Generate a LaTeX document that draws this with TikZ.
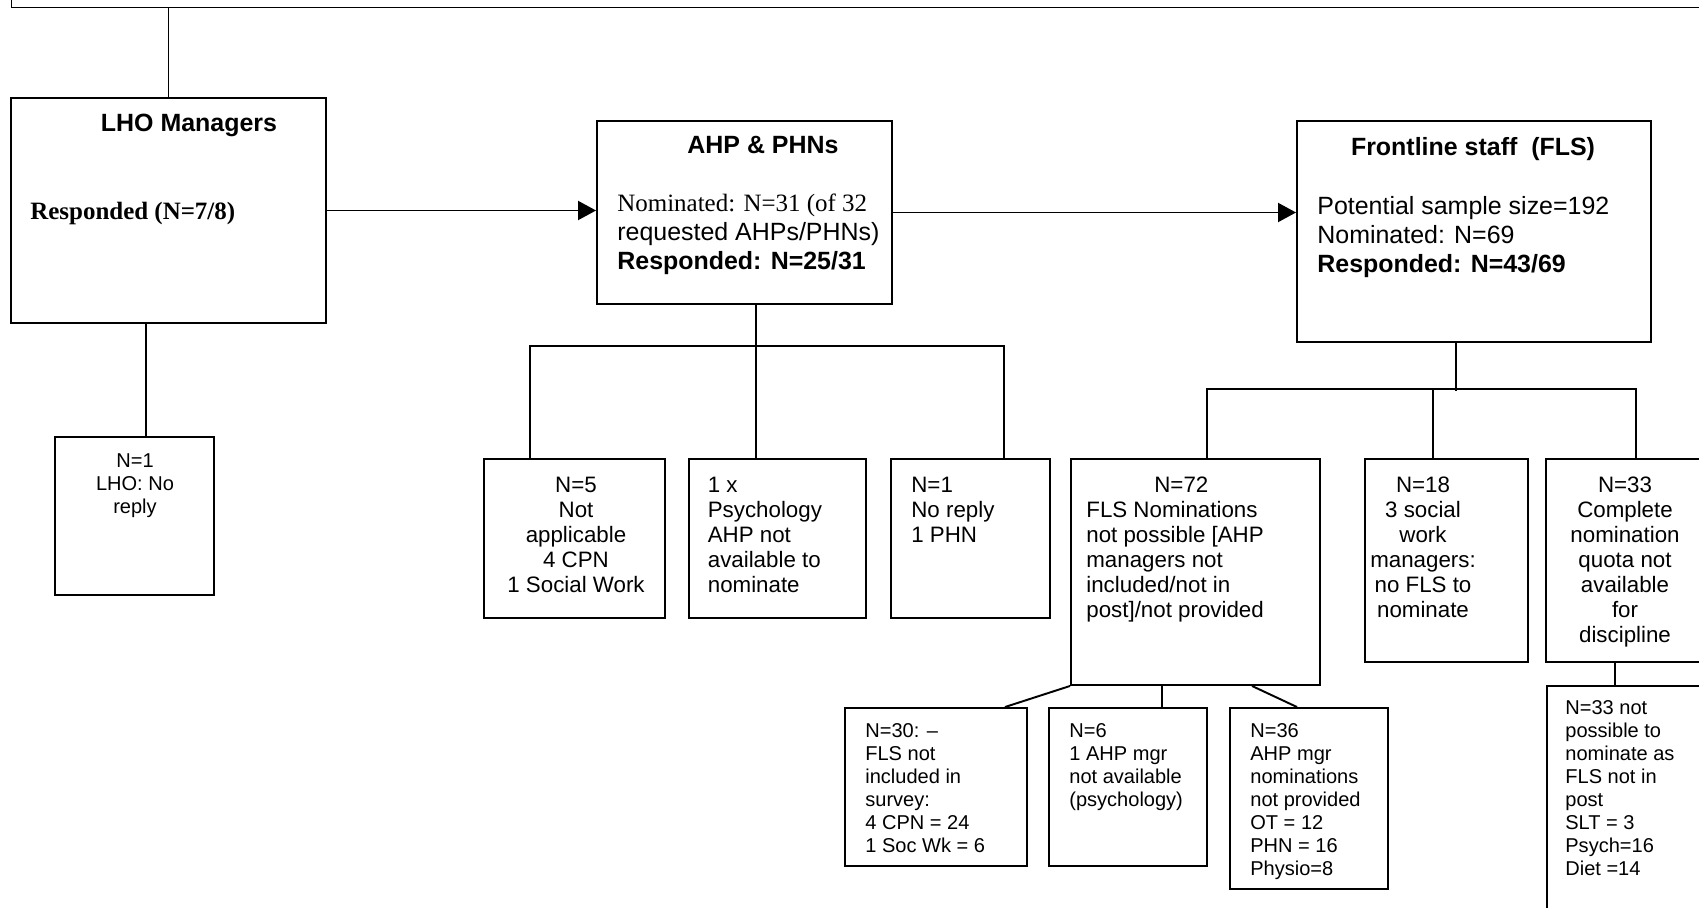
\documentclass[tikz,border=0pt]{standalone}
\usepackage{fontspec}
\setmainfont{Liberation Sans}
\newfontfamily\tnr{Liberation Serif}
\usetikzlibrary{arrows.meta}
\tikzset{
  box/.style={draw,line width=1.1pt,inner sep=0pt},
  con/.style={line width=1.1pt},
  arr/.style={con,-{Triangle[length=0.36cm,width=0.38cm]}},
  hdtxt/.style={font=\fontsize{14.2}{16.4}\selectfont\bfseries,inner sep=0pt},
  bigtxt/.style={font=\fontsize{14.2}{16.4}\selectfont,inner sep=0pt,align=left},
  midtxt/.style={font=\fontsize{12.7}{14.2}\selectfont,inner sep=0pt},
  smltxt/.style={font=\fontsize{11.4}{13.1}\selectfont,inner sep=0pt}
}
\begin{document}
\begin{tikzpicture}
\useasboundingbox (0,0) rectangle (33.98,-18.16);
\node[box,anchor=south west,minimum width=34cm,minimum height=1cm] (study) at (0.21,-0.17) {};
\node[box,minimum width=6.3cm,minimum height=4.5cm] (lho) at (3.37,-4.21) {};
\node[box,minimum width=5.9cm,minimum height=3.66cm] (ahp) at (14.89,-4.25) {};
\node[box,minimum width=7.08cm,minimum height=4.42cm] (fls) at (29.48,-4.63) {};
\node[box,minimum width=3.18cm,minimum height=3.16cm] (lhonr) at (2.69,-10.32) {};
\node[box,minimum width=3.62cm,minimum height=3.18cm] (notapp) at (11.49,-10.77) {};
\node[box,minimum width=3.54cm,minimum height=3.18cm] (psyna) at (15.55,-10.77) {};
\node[box,minimum width=3.18cm,minimum height=3.18cm] (phnnr) at (19.41,-10.77) {};
\node[box,minimum width=4.98cm,minimum height=4.52cm] (fls72) at (23.91,-11.44) {};
\node[box,minimum width=3.26cm,minimum height=4.06cm] (fls18) at (28.93,-11.21) {};
\node[box,minimum width=3.3cm,minimum height=4.06cm] (fls33) at (32.57,-11.21) {};
\node[box,minimum width=3.64cm,minimum height=3.16cm] (fls30) at (18.72,-15.74) {};
\node[box,minimum width=3.16cm,minimum height=3.16cm] (fls6) at (22.56,-15.74) {};
\node[box,minimum width=3.16cm,minimum height=3.62cm] (fls36) at (26.18,-15.97) {};
\node[box,anchor=north west,minimum width=3.3cm,minimum height=5cm] (fls33n) at (30.92,-13.7) {};

\node[hdtxt,anchor=base] (lhot) at (3.78,-2.64) {LHO Managers};
\node[hdtxt,anchor=base west] (lhor) at (0.6,-4.40) {\tnr Responded (N=7/8)};
\node[hdtxt,anchor=base] (ahpt) at (15.26,-3.08) {AHP \& PHNs};
\node[bigtxt,anchor=north west] (ahpb) at (12.34,-3.88) {\tnr Nominated: N=31 (of 32\\requested AHPs/PHNs)\\\normalfont\bfseries Responded: N=25/31};
\node[hdtxt,anchor=base] (flst) at (29.46,-3.12) {Frontline staff\ \ (FLS)};
\node[bigtxt,anchor=north west] (flsb) at (26.34,-3.92) {Potential sample size=192\\Nominated: N=69\\\textbf{Responded: N=43/69}};

\node[smltxt,align=center,anchor=north] (lhonrt) at (2.70,-9.06) {N=1\\LHO: No\\reply};
\node[midtxt,align=center,anchor=north] (notappt) at (11.52,-9.54) {N=5\\Not\\applicable\\4 CPN\\1 Social Work};
\node[midtxt,align=left,anchor=north west] (psynat) at (14.15,-9.54) {1 x\\Psychology\\AHP not\\available to\\nominate};
\node[midtxt,align=left,anchor=north west] (phnnrt) at (18.22,-9.54) {N=1\\No reply\\1 PHN};
\node[midtxt,align=left,anchor=north west] (fls72t) at (21.72,-9.54) {\hspace*{1.36cm}N=72\\FLS Nominations\\not possible [AHP\\managers not\\included/not in\\post]/not provided};
\node[midtxt,align=center,anchor=north] (fls18t) at (28.46,-9.54) {N=18\\3 social\\work\\managers:\\no FLS to\\nominate};
\node[midtxt,align=center,anchor=north] (fls33t) at (32.5,-9.54) {N=33\\Complete\\nomination\\quota not\\available\\for\\discipline};
\node[smltxt,align=left,anchor=north west] (fls30t) at (17.30,-14.46) {N=30: –\\FLS not\\included in\\survey:\\4 CPN = 24\\1 Soc Wk = 6};
\node[smltxt,align=left,anchor=north west] (fls6t) at (21.38,-14.46) {N=6\\1 AHP mgr\\not available\\(psychology)};
\node[smltxt,align=left,anchor=north west] (fls36t) at (25.0,-14.46) {N=36\\AHP mgr\\nominations\\not provided\\OT = 12\\PHN = 16\\Physio=8};
\node[smltxt,align=left,anchor=north west] (fls33nt) at (31.3,-14.0) {N=33 not\\possible to\\nominate as\\FLS not in\\post\\SLT = 3\\Psych=16\\Diet =14};

\draw[con] (study.south -| lho.north) -- (lho.north);
\draw[arr] (lho.east) -- (lho.east -| ahp.west);
\draw[arr] (ahp.east) -- (ahp.east -| fls.west);
\draw[con] ([xshift=-0.45cm]lho.south) -- ([xshift=-0.45cm]lho.south |- lhonr.north);
\draw[con] ([xshift=0.23cm]ahp.south) -- ([xshift=0.23cm]ahp.south |- psyna.north);
\draw[con] ([xshift=-0.89cm]notapp.north) -- ++(0,2.24) -| ([xshift=0.67cm]phnnr.north);
\draw[con] ([xshift=-0.36cm]fls.south) -- ++(0,-0.96);
\draw[con] ([xshift=0.23cm]fls72.north) -- ++(0,1.38) -| ([xshift=0.15cm]fls33.north);
\draw[con] ([xshift=-0.27cm]fls18.north) -- ++(0,1.38);
\draw[con] (fls72.south west) -- ([xshift=-0.46cm]fls30.north east);
\draw[con] ([xshift=-0.67cm]fls72.south) -- ([xshift=-0.67cm]fls72.south |- fls6.north);
\draw[con] ([xshift=1.13cm]fls72.south) -- ([xshift=-0.24cm]fls36.north);
\draw[con] ([xshift=-0.27cm]fls33.south) -- ([xshift=-0.27cm]fls33.south |- fls33n.north);
\end{tikzpicture}
\end{document}
